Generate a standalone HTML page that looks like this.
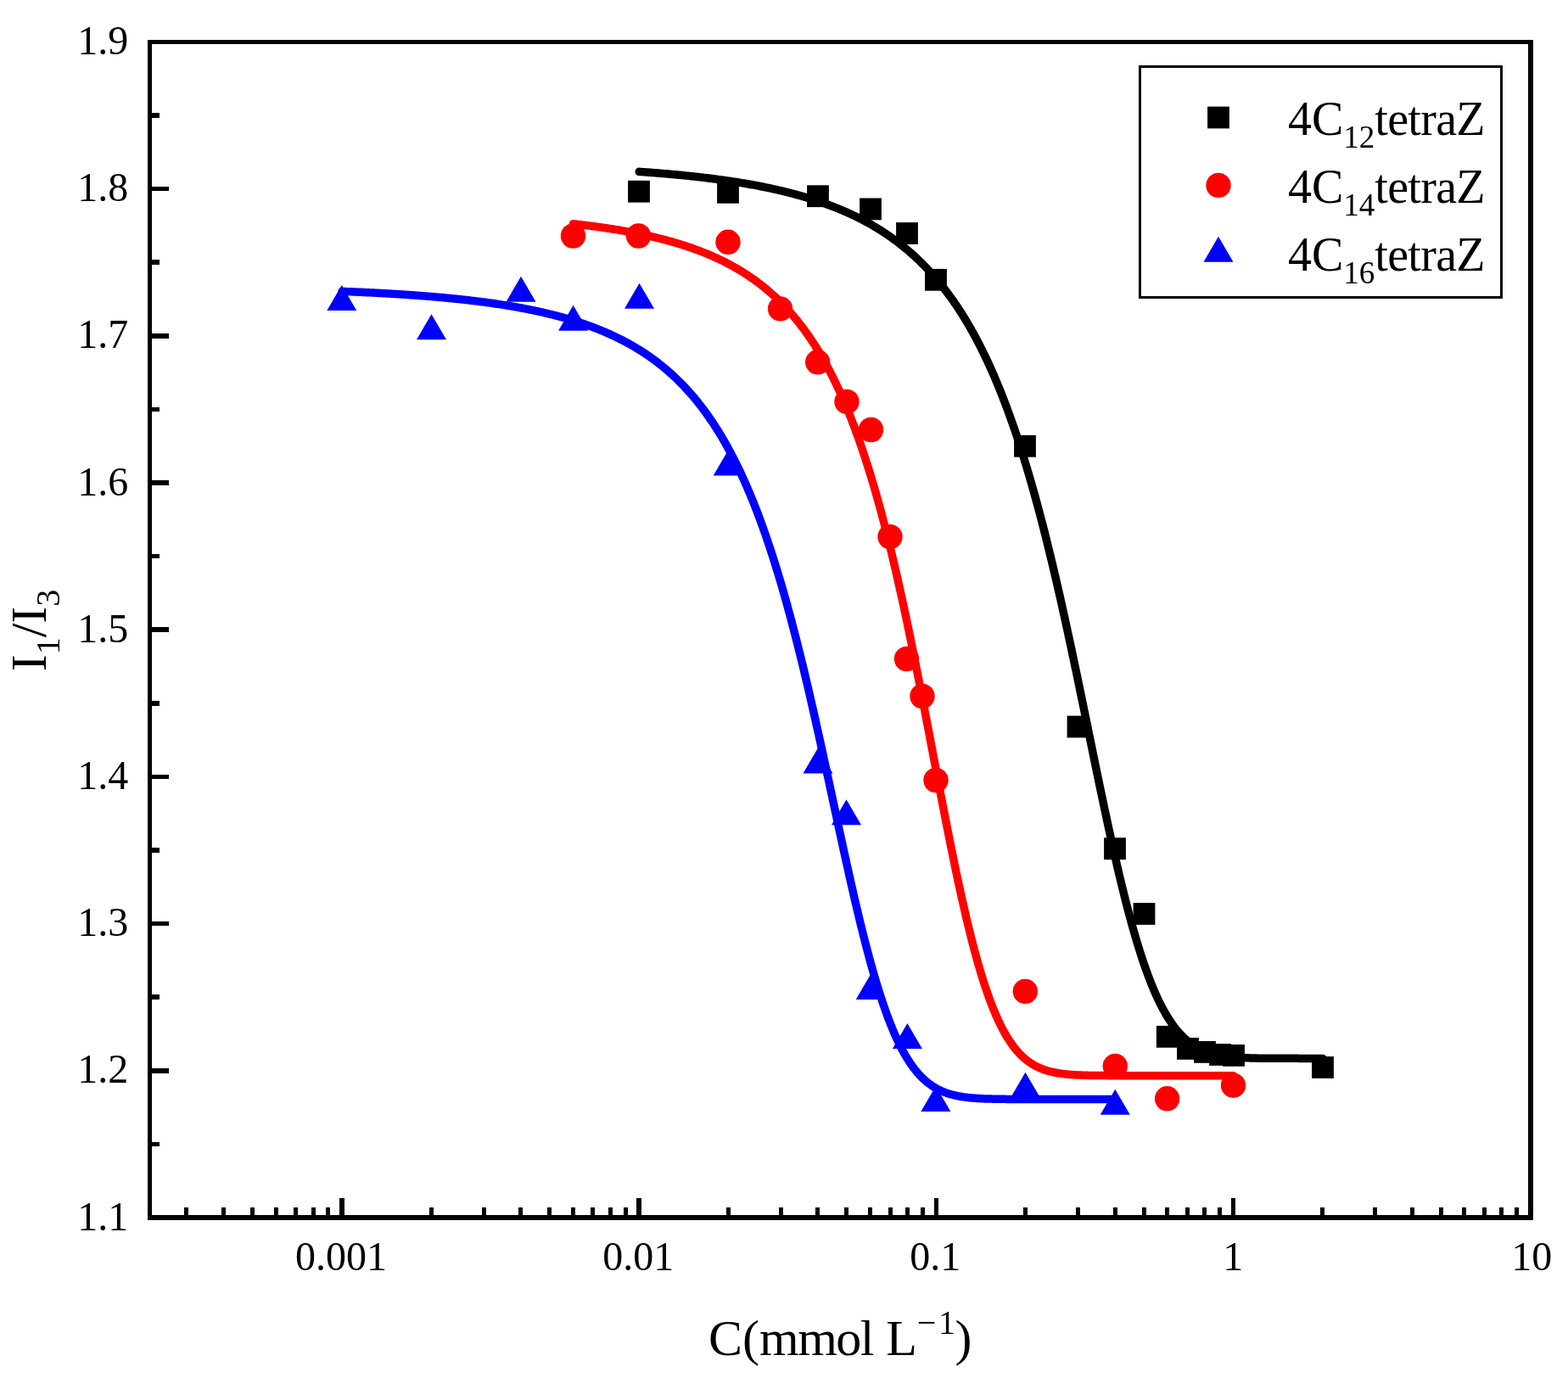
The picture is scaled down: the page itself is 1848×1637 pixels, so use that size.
<!DOCTYPE html><html><head><meta charset="utf-8"><style>html,body{margin:0;padding:0;background:#fff;overflow:hidden}svg{display:block}</style></head><body><svg width="1848" height="1637" viewBox="0 0 1848 1637" font-family="'Liberation Serif', 'Times New Roman', serif">
<rect x="0" y="0" width="1848" height="1637" fill="#fff"/>
<polyline fill="none" stroke="#000" stroke-width="9.5" stroke-linecap="round" stroke-linejoin="round" points="753.17,202.34 754.52,202.44 755.86,202.53 757.21,202.63 758.55,202.72 759.90,202.82 761.24,202.92 762.59,203.01 763.93,203.11 765.28,203.21 766.62,203.31 767.97,203.42 769.31,203.52 770.66,203.62 772.00,203.73 773.35,203.84 774.69,203.94 776.04,204.05 777.38,204.16 778.73,204.27 780.07,204.38 781.42,204.49 782.76,204.61 784.11,204.72 785.45,204.84 786.80,204.95 788.14,205.07 789.49,205.19 790.83,205.31 792.18,205.43 793.52,205.56 794.87,205.68 796.22,205.80 797.56,205.93 798.91,206.06 800.25,206.19 801.60,206.32 802.94,206.45 804.29,206.58 805.63,206.71 806.98,206.85 808.32,206.98 809.67,207.12 811.01,207.26 812.36,207.40 813.70,207.54 815.05,207.69 816.39,207.83 817.74,207.98 819.08,208.12 820.43,208.27 821.77,208.42 823.12,208.57 824.46,208.73 825.81,208.88 827.15,209.04 828.50,209.20 829.84,209.36 831.19,209.52 832.53,209.68 833.88,209.84 835.22,210.01 836.57,210.18 837.92,210.34 839.26,210.52 840.61,210.69 841.95,210.86 843.30,211.04 844.64,211.22 845.99,211.39 847.33,211.58 848.68,211.76 850.02,211.94 851.37,212.13 852.71,212.32 854.06,212.51 855.40,212.70 856.75,212.90 858.09,213.09 859.44,213.29 860.78,213.49 862.13,213.69 863.47,213.90 864.82,214.10 866.16,214.31 867.51,214.52 868.85,214.73 870.20,214.95 871.54,215.17 872.89,215.38 874.23,215.61 875.58,215.83 876.92,216.05 878.27,216.28 879.62,216.51 880.96,216.75 882.31,216.98 883.65,217.22 885.00,217.46 886.34,217.70 887.69,217.95 889.03,218.19 890.38,218.45 891.72,218.70 893.07,218.95 894.41,219.21 895.76,219.47 897.10,219.74 898.45,220.00 899.79,220.27 901.14,220.54 902.48,220.82 903.83,221.09 905.17,221.37 906.52,221.66 907.86,221.94 909.21,222.23 910.55,222.52 911.90,222.82 913.24,223.12 914.59,223.42 915.93,223.72 917.28,224.03 918.62,224.34 919.97,224.66 921.32,224.98 922.66,225.30 924.01,225.62 925.35,225.95 926.70,226.28 928.04,226.62 929.39,226.96 930.73,227.30 932.08,227.64 933.42,227.99 934.77,228.35 936.11,228.70 937.46,229.07 938.80,229.43 940.15,229.80 941.49,230.17 942.84,230.55 944.18,230.93 945.53,231.32 946.87,231.71 948.22,232.10 949.56,232.50 950.91,232.90 952.25,233.31 953.60,233.72 954.94,234.13 956.29,234.55 957.63,234.98 958.98,235.41 960.32,235.84 961.67,236.28 963.02,236.73 964.36,237.18 965.71,237.63 967.05,238.09 968.40,238.55 969.74,239.02 971.09,239.50 972.43,239.98 973.78,240.46 975.12,240.95 976.47,241.45 977.81,241.95 979.16,242.46 980.50,242.97 981.85,243.49 983.19,244.02 984.54,244.55 985.88,245.09 987.23,245.63 988.57,246.18 989.92,246.74 991.26,247.30 992.61,247.87 993.95,248.44 995.30,249.02 996.64,249.61 997.99,250.21 999.33,250.81 1000.68,251.42 1002.02,252.04 1003.37,252.66 1004.72,253.29 1006.06,253.93 1007.41,254.58 1008.75,255.23 1010.10,255.89 1011.44,256.56 1012.79,257.24 1014.13,257.92 1015.48,258.61 1016.82,259.32 1018.17,260.02 1019.51,260.74 1020.86,261.47 1022.20,262.20 1023.55,262.95 1024.89,263.70 1026.24,264.46 1027.58,265.23 1028.93,266.02 1030.27,266.81 1031.62,267.60 1032.96,268.41 1034.31,269.23 1035.65,270.06 1037.00,270.90 1038.34,271.75 1039.69,272.61 1041.03,273.48 1042.38,274.36 1043.72,275.25 1045.07,276.16 1046.42,277.07 1047.76,277.99 1049.11,278.93 1050.45,279.88 1051.80,280.84 1053.14,281.81 1054.49,282.80 1055.83,283.79 1057.18,284.80 1058.52,285.82 1059.87,286.86 1061.21,287.91 1062.56,288.97 1063.90,290.04 1065.25,291.13 1066.59,292.23 1067.94,293.35 1069.28,294.48 1070.63,295.62 1071.97,296.78 1073.32,297.95 1074.66,299.14 1076.01,300.35 1077.35,301.57 1078.70,302.80 1080.04,304.05 1081.39,305.32 1082.73,306.60 1084.08,307.90 1085.42,309.22 1086.77,310.56 1088.12,311.91 1089.46,313.28 1090.81,314.66 1092.15,316.07 1093.50,317.49 1094.84,318.94 1096.19,320.40 1097.53,321.88 1098.88,323.38 1100.22,324.90 1101.57,326.44 1102.91,328.00 1104.26,329.58 1105.60,331.19 1106.95,332.81 1108.29,334.46 1109.64,336.12 1110.98,337.81 1112.33,339.53 1113.67,341.26 1115.02,343.02 1116.36,344.80 1117.71,346.61 1119.05,348.44 1120.40,350.29 1121.74,352.17 1123.09,354.08 1124.43,356.01 1125.78,357.97 1127.12,359.95 1128.47,361.96 1129.82,364.00 1131.16,366.06 1132.51,368.16 1133.85,370.28 1135.20,372.43 1136.54,374.61 1137.89,376.82 1139.23,379.06 1140.58,381.33 1141.92,383.63 1143.27,385.96 1144.61,388.32 1145.96,390.72 1147.30,393.15 1148.65,395.61 1149.99,398.10 1151.34,400.63 1152.68,403.20 1154.03,405.79 1155.37,408.43 1156.72,411.10 1158.06,413.80 1159.41,416.54 1160.75,419.32 1162.10,422.14 1163.44,424.99 1164.79,427.88 1166.13,430.82 1167.48,433.79 1168.82,436.80 1170.17,439.85 1171.52,442.94 1172.86,446.08 1174.21,449.25 1175.55,452.47 1176.90,455.73 1178.24,459.04 1179.59,462.38 1180.93,465.78 1182.28,469.21 1183.62,472.69 1184.97,476.22 1186.31,479.79 1187.66,483.41 1189.00,487.08 1190.35,490.79 1191.69,494.55 1193.04,498.36 1194.38,502.22 1195.73,506.13 1197.07,510.08 1198.42,514.09 1199.76,518.14 1201.11,522.25 1202.45,526.40 1203.80,530.61 1205.14,534.87 1206.49,539.17 1207.83,543.54 1209.18,547.95 1210.52,552.41 1211.87,556.93 1213.22,561.50 1214.56,566.12 1215.91,570.80 1217.25,575.53 1218.60,580.31 1219.94,585.14 1221.29,590.03 1222.63,594.97 1223.98,599.96 1225.32,605.01 1226.67,610.11 1228.01,615.26 1229.36,620.46 1230.70,625.72 1232.05,631.03 1233.39,636.38 1234.74,641.80 1236.08,647.26 1237.43,652.77 1238.77,658.33 1240.12,663.94 1241.46,669.60 1242.81,675.31 1244.15,681.06 1245.50,686.86 1246.84,692.71 1248.19,698.60 1249.53,704.54 1250.88,710.52 1252.22,716.54 1253.57,722.60 1254.92,728.70 1256.26,734.85 1257.61,741.02 1258.95,747.24 1260.30,753.49 1261.64,759.77 1262.99,766.08 1264.33,772.43 1265.68,778.80 1267.02,785.20 1268.37,791.62 1269.71,798.07 1271.06,804.54 1272.40,811.03 1273.75,817.53 1275.09,824.06 1276.44,830.59 1277.78,837.14 1279.13,843.69 1280.47,850.25 1281.82,856.82 1283.16,863.39 1284.51,869.96 1285.85,876.53 1287.20,883.09 1288.54,889.64 1289.89,896.19 1291.23,902.72 1292.58,909.24 1293.92,915.74 1295.27,922.22 1296.62,928.68 1297.96,935.11 1299.31,941.52 1300.65,947.89 1302.00,954.24 1303.34,960.54 1304.69,966.81 1306.03,973.04 1307.38,979.23 1308.72,985.37 1310.07,991.46 1311.41,997.50 1312.76,1003.49 1314.10,1009.43 1315.45,1015.30 1316.79,1021.12 1318.14,1026.88 1319.48,1032.57 1320.83,1038.19 1322.17,1043.75 1323.52,1049.24 1324.86,1054.66 1326.21,1060.00 1327.55,1065.27 1328.90,1070.46 1330.24,1075.58 1331.59,1080.61 1332.93,1085.57 1334.28,1090.44 1335.62,1095.23 1336.97,1099.93 1338.32,1104.55 1339.66,1109.09 1341.01,1113.53 1342.35,1117.89 1343.70,1122.17 1345.04,1126.35 1346.39,1130.44 1347.73,1134.45 1349.08,1138.37 1350.42,1142.19 1351.77,1145.93 1353.11,1149.58 1354.46,1153.14 1355.80,1156.61 1357.15,1159.99 1358.49,1163.29 1359.84,1166.50 1361.18,1169.62 1362.53,1172.65 1363.87,1175.60 1365.22,1178.47 1366.56,1181.25 1367.91,1183.95 1369.25,1186.57 1370.60,1189.10 1371.94,1191.56 1373.29,1193.94 1374.63,1196.25 1375.98,1198.47 1377.32,1200.62 1378.67,1202.70 1380.02,1204.71 1381.36,1206.65 1382.71,1208.52 1384.05,1210.32 1385.40,1212.05 1386.74,1213.73 1388.09,1215.33 1389.43,1216.88 1390.78,1218.37 1392.12,1219.79 1393.47,1221.17 1394.81,1222.48 1396.16,1223.74 1397.50,1224.95 1398.85,1226.11 1400.19,1227.22 1401.54,1228.28 1402.88,1229.30 1404.23,1230.27 1405.57,1231.19 1406.92,1232.08 1408.26,1232.92 1409.61,1233.73 1410.95,1234.50 1412.30,1235.23 1413.64,1235.92 1414.99,1236.59 1416.33,1237.22 1417.68,1237.81 1419.02,1238.38 1420.37,1238.92 1421.72,1239.43 1423.06,1239.92 1424.41,1240.38 1425.75,1240.81 1427.10,1241.22 1428.44,1241.61 1429.79,1241.98 1431.13,1242.33 1432.48,1242.66 1433.82,1242.97 1435.17,1243.26 1436.51,1243.53 1437.86,1243.79 1439.20,1244.03 1440.55,1244.26 1441.89,1244.48 1443.24,1244.68 1444.58,1244.87 1445.93,1245.05 1447.27,1245.22 1448.62,1245.37 1449.96,1245.52 1451.31,1245.65 1452.65,1245.78 1454.00,1245.90 1455.34,1246.01 1456.69,1246.12 1458.03,1246.21 1459.38,1246.30 1460.72,1246.39 1462.07,1246.47 1463.42,1246.54 1464.76,1246.60 1466.11,1246.67 1467.45,1246.73 1468.80,1246.78 1470.14,1246.83 1471.49,1246.87 1472.83,1246.92 1474.18,1246.96 1475.52,1246.99 1476.87,1247.03 1478.21,1247.06 1479.56,1247.09 1480.90,1247.11 1482.25,1247.14 1483.59,1247.16 1484.94,1247.18 1486.28,1247.20 1487.63,1247.21 1488.97,1247.23 1490.32,1247.24 1491.66,1247.26 1493.01,1247.27 1494.35,1247.28 1495.70,1247.29 1497.04,1247.30 1498.39,1247.31 1499.73,1247.31 1501.08,1247.32 1502.42,1247.33 1503.77,1247.33 1505.12,1247.34 1506.46,1247.34 1507.81,1247.34 1509.15,1247.35 1510.50,1247.35 1511.84,1247.35 1513.19,1247.36 1514.53,1247.36 1515.88,1247.36 1517.22,1247.36 1518.57,1247.37 1519.91,1247.37 1521.26,1247.37 1522.60,1247.37 1523.95,1247.37 1525.29,1247.37 1526.64,1247.37 1527.98,1247.37 1529.33,1247.37 1530.67,1247.38 1532.02,1247.38 1533.36,1247.38 1534.71,1247.38 1536.05,1247.38 1537.40,1247.38 1538.74,1247.38 1540.09,1247.38 1541.43,1247.38 1542.78,1247.38 1544.12,1247.38 1545.47,1247.38 1546.82,1247.38 1548.16,1247.38 1549.51,1247.38 1550.85,1247.38 1552.20,1247.38 1553.54,1247.38 1554.89,1247.38 1556.23,1247.38 1557.58,1247.38 1558.92,1247.38"/>
<polyline fill="none" stroke="#f00" stroke-width="9.5" stroke-linecap="round" stroke-linejoin="round" points="675.49,263.81 676.78,263.95 678.08,264.09 679.38,264.24 680.68,264.39 681.98,264.54 683.28,264.69 684.58,264.84 685.88,264.99 687.18,265.15 688.47,265.31 689.77,265.46 691.07,265.62 692.37,265.79 693.67,265.95 694.97,266.11 696.27,266.28 697.57,266.45 698.86,266.62 700.16,266.79 701.46,266.96 702.76,267.14 704.06,267.32 705.36,267.50 706.66,267.68 707.96,267.86 709.26,268.04 710.55,268.23 711.85,268.42 713.15,268.61 714.45,268.80 715.75,269.00 717.05,269.19 718.35,269.39 719.65,269.59 720.95,269.79 722.24,270.00 723.54,270.20 724.84,270.41 726.14,270.62 727.44,270.84 728.74,271.05 730.04,271.27 731.34,271.49 732.64,271.71 733.93,271.94 735.23,272.17 736.53,272.40 737.83,272.63 739.13,272.86 740.43,273.10 741.73,273.34 743.03,273.58 744.33,273.83 745.62,274.08 746.92,274.33 748.22,274.58 749.52,274.83 750.82,275.09 752.12,275.35 753.42,275.62 754.72,275.88 756.02,276.15 757.31,276.43 758.61,276.70 759.91,276.98 761.21,277.26 762.51,277.55 763.81,277.84 765.11,278.13 766.41,278.42 767.71,278.72 769.00,279.02 770.30,279.33 771.60,279.63 772.90,279.95 774.20,280.26 775.50,280.58 776.80,280.90 778.10,281.23 779.40,281.56 780.69,281.89 781.99,282.22 783.29,282.57 784.59,282.91 785.89,283.26 787.19,283.61 788.49,283.97 789.79,284.33 791.08,284.69 792.38,285.06 793.68,285.43 794.98,285.81 796.28,286.19 797.58,286.58 798.88,286.97 800.18,287.36 801.48,287.76 802.77,288.17 804.07,288.58 805.37,288.99 806.67,289.41 807.97,289.83 809.27,290.26 810.57,290.69 811.87,291.13 813.17,291.58 814.46,292.03 815.76,292.48 817.06,292.94 818.36,293.41 819.66,293.88 820.96,294.35 822.26,294.84 823.56,295.32 824.86,295.82 826.15,296.32 827.45,296.82 828.75,297.34 830.05,297.86 831.35,298.38 832.65,298.91 833.95,299.45 835.25,299.99 836.55,300.55 837.84,301.10 839.14,301.67 840.44,302.24 841.74,302.82 843.04,303.41 844.34,304.00 845.64,304.60 846.94,305.21 848.24,305.83 849.53,306.45 850.83,307.08 852.13,307.72 853.43,308.37 854.73,309.03 856.03,309.69 857.33,310.36 858.63,311.04 859.93,311.74 861.22,312.43 862.52,313.14 863.82,313.86 865.12,314.59 866.42,315.32 867.72,316.07 869.02,316.83 870.32,317.59 871.62,318.37 872.91,319.15 874.21,319.95 875.51,320.76 876.81,321.57 878.11,322.40 879.41,323.24 880.71,324.09 882.01,324.95 883.30,325.82 884.60,326.71 885.90,327.61 887.20,328.52 888.50,329.44 889.80,330.37 891.10,331.32 892.40,332.28 893.70,333.25 894.99,334.23 896.29,335.23 897.59,336.24 898.89,337.27 900.19,338.31 901.49,339.37 902.79,340.44 904.09,341.52 905.39,342.62 906.68,343.73 907.98,344.87 909.28,346.01 910.58,347.17 911.88,348.35 913.18,349.55 914.48,350.76 915.78,351.99 917.08,353.24 918.37,354.50 919.67,355.78 920.97,357.08 922.27,358.40 923.57,359.74 924.87,361.10 926.17,362.47 927.47,363.87 928.77,365.29 930.06,366.72 931.36,368.18 932.66,369.66 933.96,371.16 935.26,372.68 936.56,374.23 937.86,375.79 939.16,377.38 940.46,379.00 941.75,380.63 943.05,382.29 944.35,383.98 945.65,385.69 946.95,387.43 948.25,389.19 949.55,390.97 950.85,392.79 952.15,394.63 953.44,396.49 954.74,398.39 956.04,400.31 957.34,402.27 958.64,404.25 959.94,406.26 961.24,408.30 962.54,410.37 963.83,412.47 965.13,414.61 966.43,416.78 967.73,418.97 969.03,421.21 970.33,423.47 971.63,425.77 972.93,428.10 974.23,430.47 975.52,432.88 976.82,435.32 978.12,437.80 979.42,440.31 980.72,442.86 982.02,445.45 983.32,448.08 984.62,450.75 985.92,453.46 987.21,456.21 988.51,459.00 989.81,461.83 991.11,464.71 992.41,467.63 993.71,470.59 995.01,473.60 996.31,476.65 997.61,479.74 998.90,482.88 1000.20,486.07 1001.50,489.31 1002.80,492.59 1004.10,495.92 1005.40,499.30 1006.70,502.73 1008.00,506.21 1009.30,509.74 1010.59,513.32 1011.89,516.95 1013.19,520.64 1014.49,524.37 1015.79,528.17 1017.09,532.01 1018.39,535.91 1019.69,539.86 1020.99,543.87 1022.28,547.94 1023.58,552.06 1024.88,556.24 1026.18,560.47 1027.48,564.76 1028.78,569.11 1030.08,573.52 1031.38,577.99 1032.68,582.51 1033.97,587.10 1035.27,591.74 1036.57,596.45 1037.87,601.21 1039.17,606.04 1040.47,610.92 1041.77,615.86 1043.07,620.87 1044.37,625.93 1045.66,631.06 1046.96,636.24 1048.26,641.49 1049.56,646.80 1050.86,652.16 1052.16,657.58 1053.46,663.07 1054.76,668.61 1056.05,674.21 1057.35,679.87 1058.65,685.58 1059.95,691.35 1061.25,697.18 1062.55,703.07 1063.85,709.00 1065.15,714.99 1066.45,721.04 1067.74,727.13 1069.04,733.28 1070.34,739.47 1071.64,745.71 1072.94,752.00 1074.24,758.34 1075.54,764.72 1076.84,771.14 1078.14,777.60 1079.43,784.10 1080.73,790.64 1082.03,797.21 1083.33,803.82 1084.63,810.45 1085.93,817.12 1087.23,823.82 1088.53,830.54 1089.83,837.28 1091.12,844.04 1092.42,850.82 1093.72,857.62 1095.02,864.42 1096.32,871.24 1097.62,878.07 1098.92,884.90 1100.22,891.73 1101.52,898.56 1102.81,905.39 1104.11,912.21 1105.41,919.02 1106.71,925.82 1108.01,932.60 1109.31,939.36 1110.61,946.11 1111.91,952.82 1113.21,959.51 1114.50,966.17 1115.80,972.79 1117.10,979.38 1118.40,985.93 1119.70,992.43 1121.00,998.89 1122.30,1005.30 1123.60,1011.66 1124.90,1017.96 1126.19,1024.20 1127.49,1030.39 1128.79,1036.51 1130.09,1042.56 1131.39,1048.55 1132.69,1054.47 1133.99,1060.31 1135.29,1066.08 1136.59,1071.78 1137.88,1077.39 1139.18,1082.92 1140.48,1088.37 1141.78,1093.73 1143.08,1099.01 1144.38,1104.20 1145.68,1109.30 1146.98,1114.31 1148.27,1119.23 1149.57,1124.05 1150.87,1128.78 1152.17,1133.41 1153.47,1137.95 1154.77,1142.39 1156.07,1146.74 1157.37,1150.99 1158.67,1155.14 1159.96,1159.19 1161.26,1163.15 1162.56,1167.01 1163.86,1170.77 1165.16,1174.44 1166.46,1178.01 1167.76,1181.48 1169.06,1184.86 1170.36,1188.14 1171.65,1191.33 1172.95,1194.43 1174.25,1197.43 1175.55,1200.35 1176.85,1203.17 1178.15,1205.91 1179.45,1208.56 1180.75,1211.12 1182.05,1213.60 1183.34,1215.99 1184.64,1218.31 1185.94,1220.54 1187.24,1222.69 1188.54,1224.77 1189.84,1226.77 1191.14,1228.70 1192.44,1230.55 1193.74,1232.34 1195.03,1234.05 1196.33,1235.70 1197.63,1237.29 1198.93,1238.81 1200.23,1240.26 1201.53,1241.66 1202.83,1243.00 1204.13,1244.28 1205.43,1245.51 1206.72,1246.68 1208.02,1247.81 1209.32,1248.88 1210.62,1249.90 1211.92,1250.88 1213.22,1251.81 1214.52,1252.70 1215.82,1253.54 1217.12,1254.35 1218.41,1255.12 1219.71,1255.85 1221.01,1256.54 1222.31,1257.20 1223.61,1257.82 1224.91,1258.41 1226.21,1258.98 1227.51,1259.51 1228.81,1260.01 1230.10,1260.49 1231.40,1260.94 1232.70,1261.37 1234.00,1261.77 1235.30,1262.15 1236.60,1262.51 1237.90,1262.85 1239.20,1263.17 1240.49,1263.47 1241.79,1263.75 1243.09,1264.02 1244.39,1264.27 1245.69,1264.51 1246.99,1264.73 1248.29,1264.93 1249.59,1265.13 1250.89,1265.31 1252.18,1265.48 1253.48,1265.64 1254.78,1265.79 1256.08,1265.93 1257.38,1266.06 1258.68,1266.18 1259.98,1266.29 1261.28,1266.40 1262.58,1266.50 1263.87,1266.59 1265.17,1266.68 1266.47,1266.76 1267.77,1266.83 1269.07,1266.90 1270.37,1266.96 1271.67,1267.02 1272.97,1267.07 1274.27,1267.12 1275.56,1267.17 1276.86,1267.21 1278.16,1267.25 1279.46,1267.29 1280.76,1267.32 1282.06,1267.35 1283.36,1267.38 1284.66,1267.41 1285.96,1267.43 1287.25,1267.46 1288.55,1267.48 1289.85,1267.49 1291.15,1267.51 1292.45,1267.53 1293.75,1267.54 1295.05,1267.56 1296.35,1267.57 1297.65,1267.58 1298.94,1267.59 1300.24,1267.60 1301.54,1267.61 1302.84,1267.61 1304.14,1267.62 1305.44,1267.63 1306.74,1267.63 1308.04,1267.64 1309.34,1267.64 1310.63,1267.64 1311.93,1267.65 1313.23,1267.65 1314.53,1267.66 1315.83,1267.66 1317.13,1267.66 1318.43,1267.66 1319.73,1267.66 1321.02,1267.67 1322.32,1267.67 1323.62,1267.67 1324.92,1267.67 1326.22,1267.67 1327.52,1267.67 1328.82,1267.67 1330.12,1267.67 1331.42,1267.68 1332.71,1267.68 1334.01,1267.68 1335.31,1267.68 1336.61,1267.68 1337.91,1267.68 1339.21,1267.68 1340.51,1267.68 1341.81,1267.68 1343.11,1267.68 1344.40,1267.68 1345.70,1267.68 1347.00,1267.68 1348.30,1267.68 1349.60,1267.68 1350.90,1267.68 1352.20,1267.68 1353.50,1267.68 1354.80,1267.68 1356.09,1267.68 1357.39,1267.68 1358.69,1267.68 1359.99,1267.68 1361.29,1267.68 1362.59,1267.68 1363.89,1267.68 1365.19,1267.68 1366.49,1267.68 1367.78,1267.68 1369.08,1267.68 1370.38,1267.68 1371.68,1267.68 1372.98,1267.68 1374.28,1267.68 1375.58,1267.68 1376.88,1267.68 1378.18,1267.68 1379.47,1267.68 1380.77,1267.68 1382.07,1267.68 1383.37,1267.68 1384.67,1267.68 1385.97,1267.68 1387.27,1267.68 1388.57,1267.68 1389.87,1267.68 1391.16,1267.68 1392.46,1267.68 1393.76,1267.68 1395.06,1267.68 1396.36,1267.68 1397.66,1267.68 1398.96,1267.68 1400.26,1267.68 1401.56,1267.68 1402.85,1267.68 1404.15,1267.68 1405.45,1267.68 1406.75,1267.68 1408.05,1267.68 1409.35,1267.68 1410.65,1267.68 1411.95,1267.68 1413.24,1267.68 1414.54,1267.68 1415.84,1267.68 1417.14,1267.68 1418.44,1267.68 1419.74,1267.68 1421.04,1267.68 1422.34,1267.68 1423.64,1267.68 1424.93,1267.68 1426.23,1267.68 1427.53,1267.68 1428.83,1267.68 1430.13,1267.68 1431.43,1267.68 1432.73,1267.68 1434.03,1267.68 1435.33,1267.68 1436.62,1267.68 1437.92,1267.68 1439.22,1267.68 1440.52,1267.68 1441.82,1267.68 1443.12,1267.68 1444.42,1267.68 1445.72,1267.68 1447.02,1267.68 1448.31,1267.68 1449.61,1267.68 1450.91,1267.68 1452.21,1267.68 1453.51,1267.68"/>
<polyline fill="none" stroke="#00f" stroke-width="9.5" stroke-linecap="round" stroke-linejoin="round" points="403.00,343.38 404.52,343.44 406.04,343.50 407.56,343.56 409.08,343.63 410.61,343.69 412.13,343.75 413.65,343.82 415.17,343.88 416.69,343.95 418.21,344.01 419.73,344.08 421.25,344.15 422.77,344.22 424.30,344.29 425.82,344.35 427.34,344.43 428.86,344.50 430.38,344.57 431.90,344.64 433.42,344.72 434.94,344.79 436.47,344.87 437.99,344.94 439.51,345.02 441.03,345.10 442.55,345.17 444.07,345.25 445.59,345.33 447.11,345.41 448.63,345.50 450.16,345.58 451.68,345.66 453.20,345.75 454.72,345.83 456.24,345.92 457.76,346.01 459.28,346.10 460.80,346.19 462.32,346.28 463.85,346.37 465.37,346.46 466.89,346.55 468.41,346.65 469.93,346.74 471.45,346.84 472.97,346.94 474.49,347.03 476.01,347.13 477.54,347.23 479.06,347.34 480.58,347.44 482.10,347.54 483.62,347.65 485.14,347.75 486.66,347.86 488.18,347.97 489.71,348.08 491.23,348.19 492.75,348.30 494.27,348.42 495.79,348.53 497.31,348.65 498.83,348.77 500.35,348.88 501.87,349.00 503.40,349.13 504.92,349.25 506.44,349.37 507.96,349.50 509.48,349.62 511.00,349.75 512.52,349.88 514.04,350.01 515.56,350.14 517.09,350.28 518.61,350.41 520.13,350.55 521.65,350.69 523.17,350.83 524.69,350.97 526.21,351.11 527.73,351.26 529.25,351.41 530.78,351.55 532.30,351.70 533.82,351.86 535.34,352.01 536.86,352.16 538.38,352.32 539.90,352.48 541.42,352.64 542.94,352.80 544.47,352.97 545.99,353.13 547.51,353.30 549.03,353.47 550.55,353.64 552.07,353.81 553.59,353.99 555.11,354.17 556.64,354.35 558.16,354.53 559.68,354.71 561.20,354.90 562.72,355.09 564.24,355.28 565.76,355.47 567.28,355.67 568.80,355.86 570.33,356.06 571.85,356.26 573.37,356.47 574.89,356.67 576.41,356.88 577.93,357.09 579.45,357.31 580.97,357.52 582.49,357.74 584.02,357.96 585.54,358.19 587.06,358.41 588.58,358.64 590.10,358.88 591.62,359.11 593.14,359.35 594.66,359.59 596.18,359.83 597.71,360.08 599.23,360.33 600.75,360.58 602.27,360.84 603.79,361.09 605.31,361.35 606.83,361.62 608.35,361.89 609.88,362.16 611.40,362.43 612.92,362.71 614.44,362.99 615.96,363.27 617.48,363.56 619.00,363.85 620.52,364.15 622.04,364.45 623.57,364.75 625.09,365.06 626.61,365.37 628.13,365.68 629.65,366.00 631.17,366.32 632.69,366.64 634.21,366.97 635.73,367.31 637.26,367.64 638.78,367.98 640.30,368.33 641.82,368.68 643.34,369.04 644.86,369.39 646.38,369.76 647.90,370.13 649.42,370.50 650.95,370.88 652.47,371.26 653.99,371.65 655.51,372.04 657.03,372.44 658.55,372.84 660.07,373.25 661.59,373.66 663.12,374.08 664.64,374.50 666.16,374.93 667.68,375.37 669.20,375.81 670.72,376.25 672.24,376.70 673.76,377.16 675.28,377.62 676.81,378.09 678.33,378.57 679.85,379.05 681.37,379.54 682.89,380.04 684.41,380.54 685.93,381.05 687.45,381.56 688.97,382.08 690.50,382.61 692.02,383.15 693.54,383.69 695.06,384.24 696.58,384.80 698.10,385.36 699.62,385.94 701.14,386.52 702.66,387.10 704.19,387.70 705.71,388.31 707.23,388.92 708.75,389.54 710.27,390.17 711.79,390.81 713.31,391.46 714.83,392.11 716.36,392.78 717.88,393.45 719.40,394.14 720.92,394.83 722.44,395.53 723.96,396.25 725.48,396.97 727.00,397.70 728.52,398.45 730.05,399.20 731.57,399.97 733.09,400.74 734.61,401.53 736.13,402.33 737.65,403.14 739.17,403.96 740.69,404.79 742.21,405.64 743.74,406.49 745.26,407.36 746.78,408.25 748.30,409.14 749.82,410.05 751.34,410.97 752.86,411.91 754.38,412.86 755.90,413.82 757.43,414.80 758.95,415.79 760.47,416.79 761.99,417.81 763.51,418.85 765.03,419.90 766.55,420.97 768.07,422.05 769.59,423.15 771.12,424.27 772.64,425.40 774.16,426.55 775.68,427.72 777.20,428.91 778.72,430.11 780.24,431.33 781.76,432.57 783.29,433.83 784.81,435.11 786.33,436.41 787.85,437.73 789.37,439.07 790.89,440.43 792.41,441.81 793.93,443.22 795.45,444.64 796.98,446.09 798.50,447.56 800.02,449.05 801.54,450.57 803.06,452.11 804.58,453.67 806.10,455.26 807.62,456.87 809.14,458.51 810.67,460.18 812.19,461.87 813.71,463.59 815.23,465.34 816.75,467.12 818.27,468.92 819.79,470.75 821.31,472.61 822.83,474.51 824.36,476.43 825.88,478.38 827.40,480.37 828.92,482.39 830.44,484.44 831.96,486.52 833.48,488.64 835.00,490.79 836.53,492.97 838.05,495.20 839.57,497.45 841.09,499.75 842.61,502.08 844.13,504.45 845.65,506.86 847.17,509.31 848.69,511.80 850.22,514.33 851.74,516.90 853.26,519.51 854.78,522.17 856.30,524.87 857.82,527.61 859.34,530.40 860.86,533.23 862.38,536.11 863.91,539.04 865.43,542.01 866.95,545.04 868.47,548.11 869.99,551.23 871.51,554.40 873.03,557.62 874.55,560.90 876.07,564.23 877.60,567.61 879.12,571.04 880.64,574.53 882.16,578.08 883.68,581.68 885.20,585.34 886.72,589.06 888.24,592.83 889.77,596.67 891.29,600.56 892.81,604.52 894.33,608.53 895.85,612.61 897.37,616.75 898.89,620.95 900.41,625.22 901.93,629.55 903.46,633.95 904.98,638.41 906.50,642.93 908.02,647.52 909.54,652.18 911.06,656.91 912.58,661.70 914.10,666.56 915.62,671.48 917.15,676.48 918.67,681.54 920.19,686.67 921.71,691.87 923.23,697.14 924.75,702.48 926.27,707.88 927.79,713.35 929.31,718.89 930.84,724.50 932.36,730.18 933.88,735.92 935.40,741.72 936.92,747.60 938.44,753.53 939.96,759.54 941.48,765.60 943.00,771.73 944.53,777.92 946.05,784.17 947.57,790.47 949.09,796.84 950.61,803.26 952.13,809.73 953.65,816.26 955.17,822.84 956.70,829.47 958.22,836.15 959.74,842.87 961.26,849.63 962.78,856.44 964.30,863.28 965.82,870.16 967.34,877.07 968.86,884.02 970.39,890.99 971.91,897.98 973.43,905.00 974.95,912.04 976.47,919.09 977.99,926.15 979.51,933.22 981.03,940.30 982.55,947.38 984.08,954.46 985.60,961.53 987.12,968.59 988.64,975.64 990.16,982.68 991.68,989.69 993.20,996.68 994.72,1003.64 996.24,1010.57 997.77,1017.46 999.29,1024.31 1000.81,1031.12 1002.33,1037.88 1003.85,1044.59 1005.37,1051.24 1006.89,1057.84 1008.41,1064.37 1009.94,1070.84 1011.46,1077.23 1012.98,1083.56 1014.50,1089.80 1016.02,1095.97 1017.54,1102.05 1019.06,1108.05 1020.58,1113.96 1022.10,1119.78 1023.63,1125.51 1025.15,1131.14 1026.67,1136.67 1028.19,1142.10 1029.71,1147.42 1031.23,1152.65 1032.75,1157.76 1034.27,1162.77 1035.79,1167.68 1037.32,1172.47 1038.84,1177.15 1040.36,1181.72 1041.88,1186.17 1043.40,1190.52 1044.92,1194.75 1046.44,1198.87 1047.96,1202.87 1049.48,1206.76 1051.01,1210.55 1052.53,1214.21 1054.05,1217.77 1055.57,1221.22 1057.09,1224.56 1058.61,1227.79 1060.13,1230.91 1061.65,1233.93 1063.18,1236.84 1064.70,1239.65 1066.22,1242.36 1067.74,1244.97 1069.26,1247.49 1070.78,1249.90 1072.30,1252.23 1073.82,1254.46 1075.34,1256.60 1076.87,1258.65 1078.39,1260.62 1079.91,1262.50 1081.43,1264.31 1082.95,1266.03 1084.47,1267.68 1085.99,1269.25 1087.51,1270.75 1089.03,1272.18 1090.56,1273.54 1092.08,1274.84 1093.60,1276.07 1095.12,1277.25 1096.64,1278.36 1098.16,1279.42 1099.68,1280.42 1101.20,1281.37 1102.72,1282.27 1104.25,1283.12 1105.77,1283.92 1107.29,1284.68 1108.81,1285.40 1110.33,1286.08 1111.85,1286.72 1113.37,1287.32 1114.89,1287.88 1116.42,1288.41 1117.94,1288.91 1119.46,1289.38 1120.98,1289.82 1122.50,1290.23 1124.02,1290.62 1125.54,1290.98 1127.06,1291.32 1128.58,1291.63 1130.11,1291.93 1131.63,1292.20 1133.15,1292.46 1134.67,1292.70 1136.19,1292.92 1137.71,1293.12 1139.23,1293.32 1140.75,1293.49 1142.27,1293.66 1143.80,1293.81 1145.32,1293.95 1146.84,1294.08 1148.36,1294.20 1149.88,1294.31 1151.40,1294.42 1152.92,1294.51 1154.44,1294.60 1155.96,1294.68 1157.49,1294.75 1159.01,1294.82 1160.53,1294.88 1162.05,1294.94 1163.57,1294.99 1165.09,1295.04 1166.61,1295.08 1168.13,1295.12 1169.65,1295.15 1171.18,1295.19 1172.70,1295.22 1174.22,1295.24 1175.74,1295.27 1177.26,1295.29 1178.78,1295.31 1180.30,1295.33 1181.82,1295.35 1183.35,1295.36 1184.87,1295.37 1186.39,1295.39 1187.91,1295.40 1189.43,1295.41 1190.95,1295.41 1192.47,1295.42 1193.99,1295.43 1195.51,1295.44 1197.04,1295.44 1198.56,1295.45 1200.08,1295.45 1201.60,1295.45 1203.12,1295.46 1204.64,1295.46 1206.16,1295.46 1207.68,1295.47 1209.20,1295.47 1210.73,1295.47 1212.25,1295.47 1213.77,1295.47 1215.29,1295.48 1216.81,1295.48 1218.33,1295.48 1219.85,1295.48 1221.37,1295.48 1222.89,1295.48 1224.42,1295.48 1225.94,1295.48 1227.46,1295.48 1228.98,1295.48 1230.50,1295.48 1232.02,1295.48 1233.54,1295.48 1235.06,1295.48 1236.59,1295.48 1238.11,1295.48 1239.63,1295.48 1241.15,1295.48 1242.67,1295.48 1244.19,1295.48 1245.71,1295.48 1247.23,1295.48 1248.75,1295.48 1250.28,1295.48 1251.80,1295.48 1253.32,1295.48 1254.84,1295.48 1256.36,1295.48 1257.88,1295.48 1259.40,1295.48 1260.92,1295.48 1262.44,1295.48 1263.97,1295.48 1265.49,1295.48 1267.01,1295.48 1268.53,1295.48 1270.05,1295.48 1271.57,1295.48 1273.09,1295.48 1274.61,1295.48 1276.13,1295.48 1277.66,1295.48 1279.18,1295.48 1280.70,1295.48 1282.22,1295.48 1283.74,1295.48 1285.26,1295.48 1286.78,1295.48 1288.30,1295.48 1289.83,1295.48 1291.35,1295.48 1292.87,1295.48 1294.39,1295.48 1295.91,1295.48 1297.43,1295.48 1298.95,1295.48 1300.47,1295.48 1301.99,1295.48 1303.52,1295.48 1305.04,1295.48 1306.56,1295.48 1308.08,1295.48 1309.60,1295.48 1311.12,1295.48 1312.64,1295.48 1314.16,1295.48"/>
<rect x="740.10" y="212.80" width="25.8" height="25.8" fill="#000"/>
<rect x="845.10" y="213.90" width="25.8" height="25.8" fill="#000"/>
<rect x="951.10" y="218.30" width="25.8" height="25.8" fill="#000"/>
<rect x="1013.10" y="233.50" width="25.8" height="25.8" fill="#000"/>
<rect x="1056.10" y="262.10" width="25.8" height="25.8" fill="#000"/>
<rect x="1090.10" y="316.90" width="25.8" height="25.8" fill="#000"/>
<rect x="1195.10" y="512.90" width="25.8" height="25.8" fill="#000"/>
<rect x="1257.60" y="843.60" width="25.8" height="25.8" fill="#000"/>
<rect x="1301.10" y="987.30" width="25.8" height="25.8" fill="#000"/>
<rect x="1335.60" y="1064.10" width="25.8" height="25.8" fill="#000"/>
<rect x="1362.90" y="1208.90" width="25.8" height="25.8" fill="#000"/>
<rect x="1387.10" y="1223.00" width="25.8" height="25.8" fill="#000"/>
<rect x="1407.10" y="1227.00" width="25.8" height="25.8" fill="#000"/>
<rect x="1425.10" y="1230.10" width="25.8" height="25.8" fill="#000"/>
<rect x="1441.10" y="1231.00" width="25.8" height="25.8" fill="#000"/>
<rect x="1546.10" y="1245.10" width="25.8" height="25.8" fill="#000"/>
<circle cx="675.5" cy="278" r="14.7" fill="#f00"/>
<circle cx="752.5" cy="278" r="14.7" fill="#f00"/>
<circle cx="858" cy="285.3" r="14.7" fill="#f00"/>
<circle cx="919.6" cy="363.9" r="14.7" fill="#f00"/>
<circle cx="963.7" cy="426.8" r="14.7" fill="#f00"/>
<circle cx="998" cy="473.4" r="14.7" fill="#f00"/>
<circle cx="1026.5" cy="506.5" r="14.7" fill="#f00"/>
<circle cx="1049" cy="632.6" r="14.7" fill="#f00"/>
<circle cx="1068.5" cy="776.5" r="14.7" fill="#f00"/>
<circle cx="1087" cy="820.5" r="14.7" fill="#f00"/>
<circle cx="1103" cy="919.5" r="14.7" fill="#f00"/>
<circle cx="1208.3" cy="1168.4" r="14.7" fill="#f00"/>
<circle cx="1314.3" cy="1256.5" r="14.7" fill="#f00"/>
<circle cx="1375.6" cy="1294.8" r="14.7" fill="#f00"/>
<circle cx="1453.5" cy="1279.2" r="14.7" fill="#f00"/>
<polygon points="402.80,335.90 420.30,365.90 385.30,365.90" fill="#00f"/>
<polygon points="508.50,370.20 526.00,400.20 491.00,400.20" fill="#00f"/>
<polygon points="614.00,325.70 631.50,355.70 596.50,355.70" fill="#00f"/>
<polygon points="675.60,359.80 693.10,389.80 658.10,389.80" fill="#00f"/>
<polygon points="753.50,333.80 771.00,363.80 736.00,363.80" fill="#00f"/>
<polygon points="858.20,530.60 875.70,560.60 840.70,560.60" fill="#00f"/>
<polygon points="964.00,881.50 981.50,911.50 946.50,911.50" fill="#00f"/>
<polygon points="997.50,942.30 1015.00,972.30 980.00,972.30" fill="#00f"/>
<polygon points="1026.20,1147.90 1043.70,1177.90 1008.70,1177.90" fill="#00f"/>
<polygon points="1069.40,1206.00 1086.90,1236.00 1051.90,1236.00" fill="#00f"/>
<polygon points="1102.90,1280.00 1120.40,1310.00 1085.40,1310.00" fill="#00f"/>
<polygon points="1208.50,1263.80 1226.00,1293.80 1191.00,1293.80" fill="#00f"/>
<polygon points="1314.30,1283.70 1331.80,1313.70 1296.80,1313.70" fill="#00f"/>
<g fill="#000">
<rect x="174" y="47" width="1633" height="5"/>
<rect x="174" y="1432" width="1633" height="6"/>
<rect x="174" y="47" width="5" height="1391"/>
<rect x="1801" y="47" width="6" height="1391"/>
<rect x="179" y="1432" width="20" height="6"/>
<rect x="179" y="1259" width="20" height="6"/>
<rect x="179" y="1086" width="20" height="5"/>
<rect x="179" y="913" width="20" height="5"/>
<rect x="179" y="739" width="20" height="6"/>
<rect x="179" y="566" width="20" height="6"/>
<rect x="179" y="393" width="20" height="6"/>
<rect x="179" y="220" width="20" height="5"/>
<rect x="179" y="47" width="20" height="5"/>
<rect x="179" y="1346" width="9" height="5"/>
<rect x="179" y="1172" width="9" height="6"/>
<rect x="179" y="999" width="9" height="6"/>
<rect x="179" y="826" width="9" height="6"/>
<rect x="179" y="653" width="9" height="5"/>
<rect x="179" y="480" width="9" height="5"/>
<rect x="179" y="306" width="9" height="6"/>
<rect x="179" y="133" width="9" height="6"/>
<rect x="400" y="1412" width="6" height="20"/>
<rect x="750" y="1412" width="6" height="20"/>
<rect x="1101" y="1412" width="5" height="20"/>
<rect x="1451" y="1412" width="5" height="20"/>
<rect x="1801" y="1412" width="5" height="20"/>
<rect x="217" y="1423" width="5" height="9"/>
<rect x="261" y="1423" width="5" height="9"/>
<rect x="295" y="1423" width="5" height="9"/>
<rect x="323" y="1423" width="5" height="9"/>
<rect x="346" y="1423" width="5" height="9"/>
<rect x="367" y="1423" width="5" height="9"/>
<rect x="384" y="1423" width="5" height="9"/>
<rect x="506" y="1423" width="5" height="9"/>
<rect x="568" y="1423" width="5" height="9"/>
<rect x="611" y="1423" width="5" height="9"/>
<rect x="645" y="1423" width="5" height="9"/>
<rect x="673" y="1423" width="5" height="9"/>
<rect x="696" y="1423" width="5" height="9"/>
<rect x="717" y="1423" width="5" height="9"/>
<rect x="735" y="1423" width="5" height="9"/>
<rect x="856" y="1423" width="5" height="9"/>
<rect x="918" y="1423" width="5" height="9"/>
<rect x="961" y="1423" width="5" height="9"/>
<rect x="995" y="1423" width="5" height="9"/>
<rect x="1023" y="1423" width="5" height="9"/>
<rect x="1047" y="1423" width="5" height="9"/>
<rect x="1067" y="1423" width="5" height="9"/>
<rect x="1085" y="1423" width="5" height="9"/>
<rect x="1206" y="1423" width="5" height="9"/>
<rect x="1268" y="1423" width="5" height="9"/>
<rect x="1312" y="1423" width="5" height="9"/>
<rect x="1346" y="1423" width="5" height="9"/>
<rect x="1373" y="1423" width="5" height="9"/>
<rect x="1397" y="1423" width="5" height="9"/>
<rect x="1417" y="1423" width="5" height="9"/>
<rect x="1435" y="1423" width="5" height="9"/>
<rect x="1556" y="1423" width="5" height="9"/>
<rect x="1618" y="1423" width="5" height="9"/>
<rect x="1662" y="1423" width="5" height="9"/>
<rect x="1696" y="1423" width="5" height="9"/>
<rect x="1723" y="1423" width="5" height="9"/>
<rect x="1747" y="1423" width="5" height="9"/>
<rect x="1767" y="1423" width="5" height="9"/>
<rect x="1785" y="1423" width="5" height="9"/>
</g>
<g font-size="48" fill="#000" text-anchor="end">
<text x="151.3" y="1449.62">1.1</text>
<text x="151.3" y="1276.43">1.2</text>
<text x="151.3" y="1103.24">1.3</text>
<text x="151.3" y="930.05">1.4</text>
<text x="151.3" y="756.86">1.5</text>
<text x="151.3" y="583.67">1.6</text>
<text x="151.3" y="410.48">1.7</text>
<text x="151.3" y="237.29">1.8</text>
<text x="151.3" y="64.10">1.9</text>
</g>
<g font-size="48" fill="#000" text-anchor="middle">
<text x="402.00" y="1496.6">0.001</text>
<text x="752.27" y="1496.6">0.01</text>
<text x="1102.34" y="1496.6">0.1</text>
<text x="1453.21" y="1496.6">1</text>
<text x="1805.18" y="1496.6">10</text>
</g>
<text y="1597" font-size="60" fill="#000"><tspan x="835">C(</tspan><tspan x="895.1" letter-spacing="-1.55">mmol </tspan><tspan x="1044.3">L</tspan><tspan x="1080.8" font-size="40" dy="-25">−</tspan><tspan x="1106" font-size="40">1</tspan><tspan x="1125.6" dy="25">)</tspan></text>
<text transform="translate(54,743) rotate(-90)" text-anchor="middle" font-size="60" fill="#000">I<tspan font-size="40" dy="16">1</tspan><tspan dy="-16">/I</tspan><tspan font-size="40" dy="16">3</tspan></text>
<rect x="1343.5" y="78.5" width="426" height="272" fill="none" stroke="#000" stroke-width="3"/>
<rect x="1423.1" y="125.6" width="25.8" height="25.8" fill="#000"/>
<circle cx="1436" cy="218.4" r="14.7" fill="#f00"/>
<polygon points="1436,278.8 1453.5,308.8 1418.5,308.8" fill="#00f"/>
<text x="1518" y="158.7" font-size="56" fill="#000">4C<tspan font-size="37" dy="15">12</tspan><tspan dy="-15" letter-spacing="-0.7">tetraZ</tspan></text>
<text x="1518" y="238.6" font-size="56" fill="#000">4C<tspan font-size="37" dy="15">14</tspan><tspan dy="-15" letter-spacing="-0.7">tetraZ</tspan></text>
<text x="1518" y="319" font-size="56" fill="#000">4C<tspan font-size="37" dy="15">16</tspan><tspan dy="-15" letter-spacing="-0.7">tetraZ</tspan></text>
</svg></body></html>
